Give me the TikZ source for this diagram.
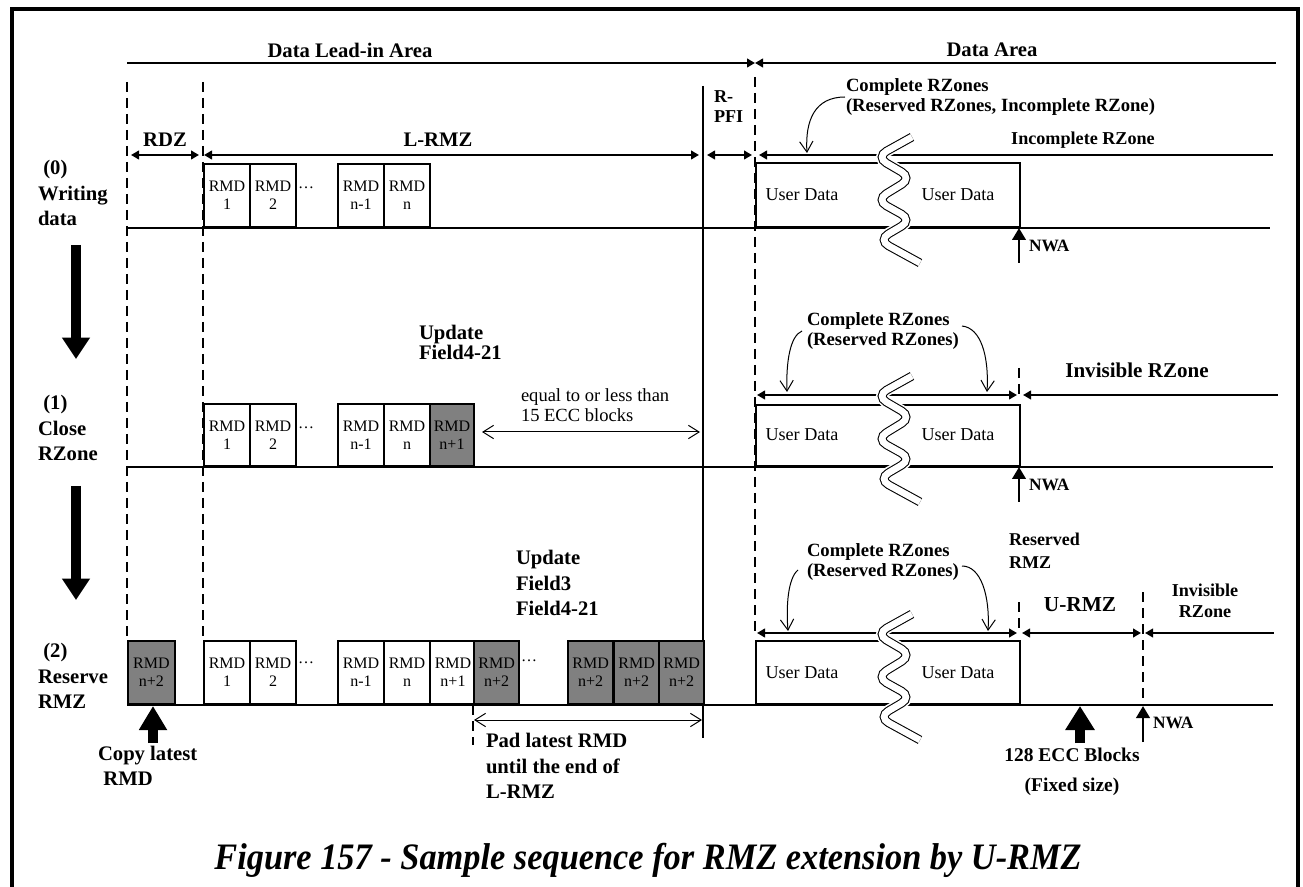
\documentclass[tikz,border=0pt]{standalone}
\usepackage{fontspec}
\setmainfont{Liberation Serif}
\usetikzlibrary{arrows.meta,positioning}
\definecolor{Latest}{HTML}{808080}
\newcommand{\fsz}[2]{\fontsize{#1}{#2}\selectfont}
% wavy break through one row, #1 = row offset
\newcommand{\rowbreak}[1]{%
  \begin{scope}[shift={(0,#1)},rounded corners=9pt]
    \draw[white,line width=9pt] (912,137) -- (876,157) -- (912,178) -- (876,200) -- (912,220) -- (878,240) -- (920,263);
    \draw[line width=0.8pt,double=white,double distance=5pt] (912,137) -- (876,157) -- (912,178) -- (876,200) -- (912,220) -- (878,240) -- (920,263);
  \end{scope}}

\begin{document}
\begin{tikzpicture}[x=0.75pt,y=-0.75pt,line width=1.5pt,
  lbl/.style={font=\fsz{15.5}{19}\bfseries,align=left,inner sep=0pt},
  sublbl/.style={font=\fsz{14}{15}\bfseries,align=left,inner sep=0pt},
  note/.style={font=\fsz{13.9}{15},align=left,inner sep=0pt},
  udata/.style={font=\fsz{13.6}{15},inner sep=0pt},
  rmd/.style={draw,anchor=south west,minimum width=34.5pt,minimum height=47.5pt,inner sep=0pt,align=center,font=\fsz{12}{13.5}},
  latest/.style={rmd,fill=Latest},
  userbox/.style={draw,anchor=south west,minimum width=198pt,inner sep=0pt},
  rng/.style={{Triangle[length=6pt,width=6.5pt]}-{Triangle[length=6pt,width=6.5pt]}},
  rngl/.style={{Triangle[length=6pt,width=6.5pt]}-},
  rngr/.style={-{Triangle[length=6pt,width=6.5pt]}},
  guide/.style={dash pattern=on 7.5pt off 4.5pt},
  vee/.style={line width=0.75pt,-{Straight Barb[length=8pt,width=10pt]}},
  vees/.style={line width=0.75pt,{Straight Barb[length=8pt,width=10pt]}-{Straight Barb[length=8pt,width=10pt]}},
  bigarr/.style={line width=8pt,-{Triangle[length=16pt,width=20pt]}},
  nwa/.style={line width=2.2pt,-{Triangle[length=9pt,width=10pt]}}]
  \useasboundingbox (0,0) rectangle (1303,887);
  \draw[line width=2.5pt] (12,887) -- (12,9) -- (1298,9) -- (1298,887);

  % areas
  \coordinate (li0) at (127,63); \coordinate (li1) at (755,63); \coordinate (da1) at (1276,63);
  \draw[rngr] (li0) -- (li1);
  \draw[rngl] (li1) -- (da1);
  \node[lbl] (leadin) at (350,50) {Data Lead-in Area};
  \node[lbl] (darea) at (992,50) {Data Area};

  % zone borders
  \draw[guide] (127,82) -- (127,642);
  \draw[guide] (203,82) -- (203,642);
  \draw[guide] (755,77) -- (755,633);
  \draw (703,86) -- (703,738);

  % (0) writing data
  \draw[rng] (131,155) -- (199,155);
  \draw[rng] (204,155) -- (699,155);
  \draw[rng] (707,155) -- (752,155);
  \draw[rngl] (759,155) -- (1273,155);
  \node[lbl] (rdz) at (165,140) {RDZ};
  \node[lbl] (lrmz) at (438,140) {L-RMZ};
  \node[lbl,font=\fsz{13.6}{15}\bfseries,anchor=west] (rpfi) at (713,107) {R-\\PFI};
  \node[sublbl,font=\fsz{13.6}{15}\bfseries] (inc0) at (1083,140) {Incomplete RZone};
  \node[sublbl,anchor=west] (cplt0) at (845,97) {Complete RZones\\(Reserved RZones, Incomplete RZone)};
  \draw[vee] (cplt0.west) .. controls (815,97) and (805,120) .. (807,153);
  \node[userbox,minimum height=48pt] (ud0) at (755,228) {};
  \foreach \x/\t/\n in {203/1/a,249/2/b,337/n-1/c,383/n/d}
    \node[rmd] (r0\n) at (\x,228) {RMD\\\t};
  \node[font=\fsz{12}{13}] (dots0) at (306,188) {\dots};
  \draw (127,228) -- (1270,228);
  \coordinate (nwa0) at (1019,263);
  \draw[nwa] (nwa0) -- (nwa0 |- ud0.south);
  \node[lbl,font=\fsz{13}{15}\bfseries,anchor=west] (nwat0) at (1028,246) {NWA};
  \node[lbl,anchor=west] (step0) at (37,193) {\hspace{4pt}(0)\\Writing\\data};
  \rowbreak{0}
  \node[udata] (ud0a) at (802,195) {User Data};
  \node[udata] (ud0b) at (958,195) {User Data};

  \draw[bigarr] (76,245) -- (76,359);
  \draw[bigarr] (76,486) -- (76,600);

  % (1) close rzone
  \foreach \x/\t/\n in {203/1/a,249/2/b,337/n-1/c,383/n/d}
    \node[rmd,minimum height=46.5pt] (r1\n) at (\x,467) {RMD\\\t};
  \node[latest,minimum height=46.5pt,minimum width=33pt] (r1e) at (429,467) {RMD\\n+1};
  \node[font=\fsz{12}{13}] (dots1) at (306,428) {\dots};
  \coordinate (lend1) at (700,432);
  \draw[vees] (482,432) -- (lend1);
  \node[note,anchor=west] (ecc1) at (520,405) {equal to or less than\\15 ECC blocks};
  \node[lbl,font=\fsz{15.5}{15}\bfseries,anchor=west] (upd1) at (418,342) {Update\\Field4-21};
  \node[lbl,anchor=west] (step1) at (37,428) {\hspace{4pt}(1)\\Close\\RZone};
  \node[userbox,minimum height=45.75pt] (ud1) at (755,467) {};
  \draw[guide] (1019,368) -- (1019,395);
  \draw[rng] (757,395) -- (1017,395);
  \draw[rngl] (1023,395) -- (1278,395);
  \node[lbl,font=\fsz{15.8}{17}\bfseries] (inv1) at (1137,370) {Invisible RZone};
  \node[sublbl,anchor=west] (cplt1) at (806,331) {Complete RZones\\(Reserved RZones)};
  \draw[vee] (802,331) .. controls (790,336) and (786,362) .. (787,392);
  \draw[vee] (962,326) .. controls (981,328) and (989,356) .. (987,392);
  \draw (127,467) -- (1273,467);
  \coordinate (nwa1) at (1019,502);
  \draw[nwa] (nwa1) -- (nwa1 |- ud1.south);
  \node[lbl,font=\fsz{13}{15}\bfseries,anchor=west] (nwat1) at (1028,485) {NWA};
  \rowbreak{239}
  \node[udata] (ud1a) at (802,435) {User Data};
  \node[udata] (ud1b) at (958,435) {User Data};

  % (2) reserve rmz
  \node[latest,minimum width=35pt] (r2z) at (127,705) {RMD\\n+2};
  \foreach \x/\t/\n in {203/1/a,249/2/b,337/n-1/c,383/n/d,429/n+1/e}
    \node[rmd] (r2\n) at (\x,705) {RMD\\\t};
  \foreach \x/\n in {473/f,567/g,613/h,658/i}
    \node[latest,minimum width=34pt] (r2\n) at (\x,705) {RMD\\n+2};
  \node[font=\fsz{12}{13}] (dots2) at (306,663) {\dots};
  \node[font=\fsz{12}{13}] (dots3) at (529,661) {\dots};
  \draw[guide] (473,705) -- (473,745);
  \draw[vees] (474,720) -- (702,720);
  \node[lbl,anchor=west] (padt) at (485,766) {Pad latest RMD\\until the end of\\L-RMZ};
  \node[lbl,anchor=west] (upd2) at (515,583) {Update\\Field3\\Field4-21};
  \node[lbl,anchor=west] (step2) at (37,676) {\hspace{4pt}(2)\\Reserve\\RMZ};
  \draw[bigarr,-{Triangle[length=18pt,width=20pt]}] (153,743) -- (153,706);
  \node[lbl,anchor=west] (copyt) at (97,766) {Copy latest\\\hspace{4pt}RMD};
  \node[userbox,minimum height=47.25pt] (ud2) at (755,705) {};
  \draw[guide] (1019,602) -- (1019,633);
  \draw[guide] (1143,592) -- (1143,705);
  \draw[rng] (757,633) -- (1017,633);
  \draw[rng] (1022,633) -- (1141,633);
  \draw[rngl] (1145,633) -- (1274,633);
  \node[lbl,font=\fsz{16}{17}\bfseries] (urmz) at (1080,605) {U-RMZ};
  \node[lbl,font=\fsz{13.6}{16}\bfseries,align=center] (inv2) at (1205,601) {Invisible\\RZone};
  \node[lbl,font=\fsz{13.5}{17}\bfseries,anchor=west] (resv) at (1008,551) {Reserved\\RMZ};
  \node[sublbl,anchor=west] (cplt2) at (806,562) {Complete RZones\\(Reserved RZones)};
  \draw[vee] (798,570) .. controls (788,578) and (786,606) .. (788,631);
  \draw[vee] (962,566) .. controls (981,566) and (990,596) .. (988,631);
  \draw (127,705) -- (1273,705);
  \draw[bigarr,-{Triangle[length=18pt,width=21pt]}] (1080,743) -- (1080,706);
  \coordinate (nwa2) at (1143,742);
  \draw[nwa] (nwa2) -- (1143,706);
  \node[lbl,font=\fsz{13}{15}\bfseries,anchor=west] (nwat2) at (1152,723) {NWA};
  \node[lbl,font=\fsz{14.6}{22.5}\bfseries,align=center] (fixed) at (1072,772) {128 ECC Blocks\\(Fixed size)};
  \rowbreak{477}
  \node[udata] (ud2a) at (802,673) {User Data};
  \node[udata] (ud2b) at (958,673) {User Data};

  \node (caption) at (648,860) {\fsz{28}{30}\bfseries\itshape\scalebox{0.92}[1]{Figure 157 - Sample sequence for RMZ extension by U-RMZ}};
\end{tikzpicture}
\end{document}
